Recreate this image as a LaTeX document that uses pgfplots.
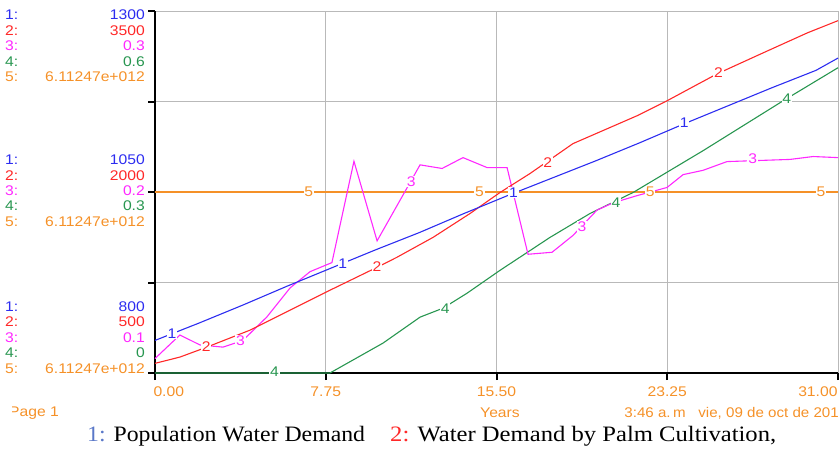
\documentclass[border=0pt]{standalone}
\usepackage{fontspec}
\usepackage{graphicx}
\usepackage{pgfplots}
\usepackage{pgfplotstable}
\pgfplotsset{compat=1.18}
\setmainfont{Liberation Sans}
\newfontfamily\capfont{Liberation Serif}
\definecolor{cBlue}{RGB}{45,45,240}
\definecolor{cRed}{RGB}{255,40,40}
\definecolor{cMag}{RGB}{255,40,255}
\definecolor{cGreen}{RGB}{40,150,80}
\definecolor{cOrange}{RGB}{245,145,40}
\definecolor{cGrid}{RGB}{185,185,185}
\definecolor{cCap}{RGB}{90,120,200}
\newcommand{\sx}[1]{\scalebox{1.12}[1]{#1}}
\newcommand{\fs}{\fontsize{14bp}{16bp}\selectfont}
\tikzset{lbl/.style={fill=white, inner sep=0.8bp, font=\fs}}
\newcommand{\lrow}[4]{%
  \node[anchor=west,text=#3,font=\fs,inner sep=0pt] at (5bp,-#1bp) {\sx{#2:}};
  \node[anchor=east,text=#3,font=\fs,inner sep=0pt] at (145bp,-#1bp) {\sx{#4}};}

\pgfplotstableread{
t v
0 845
2 869
4 894
6 920
8 945
10 970
12 994
14 1020
16 1045
18 1069
20 1093
22 1118
24 1144
26 1169
28 1194
30 1218
31 1235
}\popdemand
\pgfplotstableread{
t v
0 580
1.13 632
2.36 715
4.31 855
6.58 1062
7.94 1186
10.08 1376
10.98 1459
12.62 1624
14.30 1822
15.66 1996
17.02 2153
18.97 2401
21.88 2632
23.24 2756
25.51 2979
27.60 3153
29.60 3318
31.0 3420
}\palmdemand
\pgfplotstableread{
t v
0 0.108
1.13 0.121
2.04 0.1155
3.09 0.1143
3.99 0.118
5.08 0.131
6.13 0.147
7.04 0.156
8.03 0.161
9.03 0.217
10.08 0.173
12.03 0.215
13.03 0.213
13.98 0.219
15.07 0.2135
15.98 0.2135
16.93 0.1656
18.02 0.1667
18.97 0.176
20.06 0.190
20.79 0.194
21.88 0.198
23.24 0.2025
23.97 0.2096
24.88 0.212
25.96 0.2168
28.82 0.218
29.87 0.2196
31 0.219
}\seriesthree
\pgfplotstableread{
t v
0 0
7.94 0
10.35 0.0496
12.03 0.0926
13.07 0.1074
14.16 0.1322
15.66 0.1702
17.93 0.2248
19.75 0.2645
21.70 0.2992
24.88 0.3686
28.51 0.4512
31 0.506
}\seriesfour

\begin{document}
\begin{tikzpicture}
\useasboundingbox (0,0) rectangle (840bp,-449bp);
\begin{axis}[
  at={(155bp,-373bp)}, anchor=south west,
  scale only axis, width=683bp, height=362bp,
  xmin=0, xmax=31, ymin=0, ymax=1,
  axis x line*=bottom, axis y line*=left,
  axis line style={black, line width=2bp},
  xtick={0,7.75,15.5,23.25,31},
  xticklabels={\hspace*{-3bp}\rlap{\sx{0.00}},\sx{7.75},\sx{15.50},\sx{23.25},\llap{\sx{31.00}}\hspace*{1bp}},
  ytick={0,0.25,0.5,0.75,1},
  yticklabels={},
  tick align=outside,
  major tick length=7bp,
  tick style={black, line width=2bp},
  grid=major,
  major grid style={cGrid, line width=0.8bp},
  xticklabel style={font=\fs, text=cOrange, yshift=-3bp},
  clip=false,
]
\addplot[cOrange, line width=2bp] coordinates {(0,0.5) (31,0.5)};
\addplot[cGreen, line width=1.1bp, y filter/.expression={y/0.6}] table[x=t,y=v] {\seriesfour};
\addplot[cMag, line width=1.1bp, y filter/.expression={(y-0.1)/0.2}] table[x=t,y=v] {\seriesthree};
\addplot[cRed, line width=1.1bp, y filter/.expression={(y-500)/3000}] table[x=t,y=v] {\palmdemand};
\addplot[cBlue, line width=1.1bp, y filter/.expression={(y-800)/500}] table[x=t,y=v] {\popdemand};

\node[lbl,text=cBlue] at (axis cs:0.775,0.110) {\sx{1}};
\node[lbl,text=cBlue] at (axis cs:8.525,0.303) {\sx{1}};
\node[lbl,text=cBlue] at (axis cs:16.275,0.499) {\sx{1}};
\node[lbl,text=cBlue] at (axis cs:24.025,0.691) {\sx{1}};
\node[lbl,text=cRed] at (axis cs:2.325,0.074) {\sx{2}};
\node[lbl,text=cRed] at (axis cs:10.075,0.295) {\sx{2}};
\node[lbl,text=cRed] at (axis cs:17.825,0.581) {\sx{2}};
\node[lbl,text=cRed] at (axis cs:25.575,0.829) {\sx{2}};
\node[lbl,text=cMag] at (axis cs:3.875,0.088) {\sx{3}};
\node[lbl,text=cMag] at (axis cs:11.625,0.529) {\sx{3}};
\node[lbl,text=cMag] at (axis cs:19.375,0.405) {\sx{3}};
\node[lbl,text=cMag] at (axis cs:27.125,0.592) {\sx{3}};
\node[lbl,text=cGreen] at (axis cs:5.425,0.003) {\sx{4}};
\node[lbl,text=cGreen] at (axis cs:13.175,0.179) {\sx{4}};
\node[lbl,text=cGreen] at (axis cs:20.925,0.471) {\sx{4}};
\node[lbl,text=cGreen] at (axis cs:28.675,0.758) {\sx{4}};
\node[lbl,text=cOrange] at (axis cs:6.975,0.5) {\sx{5}};
\node[lbl,text=cOrange] at (axis cs:14.725,0.5) {\sx{5}};
\node[lbl,text=cOrange] at (axis cs:22.475,0.5) {\sx{5}};
\node[lbl,text=cOrange] at (axis cs:30.225,0.5) {\sx{5}};
\end{axis}

% left scale labels
\lrow{15}{1}{cBlue}{1300}
\lrow{30.5}{2}{cRed}{3500}
\lrow{46}{3}{cMag}{0.3}
\lrow{61.5}{4}{cGreen}{0.6}
\lrow{77}{5}{cOrange}{6.11247e+012}
\lrow{160}{1}{cBlue}{1050}
\lrow{176}{2}{cRed}{2000}
\lrow{191}{3}{cMag}{0.2}
\lrow{206}{4}{cGreen}{0.3}
\lrow{222}{5}{cOrange}{6.11247e+012}
\lrow{307}{1}{cBlue}{800}
\lrow{322}{2}{cRed}{500}
\lrow{338}{3}{cMag}{0.1}
\lrow{353}{4}{cGreen}{0}
\lrow{369}{5}{cOrange}{6.11247e+012}

% footer texts
\begin{scope}
\clip (12bp,-400bp) rectangle (120bp,-428bp);
\node[anchor=west,text=cOrange,font=\fs,inner sep=0pt] at (9bp,-413bp) {\sx{Page 1}};
\end{scope}
\node[text=cOrange,font=\fs,inner sep=0pt] at (500bp,-413bp) {\sx{Years}};
\node[anchor=east,text=cOrange,font=\fs,inner sep=0pt] at (839bp,-413bp) {\scalebox{1.08}[1]{3:46 a.\,m\ \ \ vie, 09 de oct de 201}};

% caption
\node[anchor=base west,font=\capfont\fontsize{22bp}{24bp}\selectfont,inner sep=0pt] at (87bp,-441bp) {\scalebox{1.08}[1]{\textcolor{cCap}{1:} Population Water Demand}};
\node[anchor=base west,font=\capfont\fontsize{22bp}{24bp}\selectfont,inner sep=0pt] at (390bp,-441bp) {\scalebox{1.12}[1]{\textcolor{cRed}{2:} Water Demand by Palm Cultivation,}};
\end{tikzpicture}
\end{document}
